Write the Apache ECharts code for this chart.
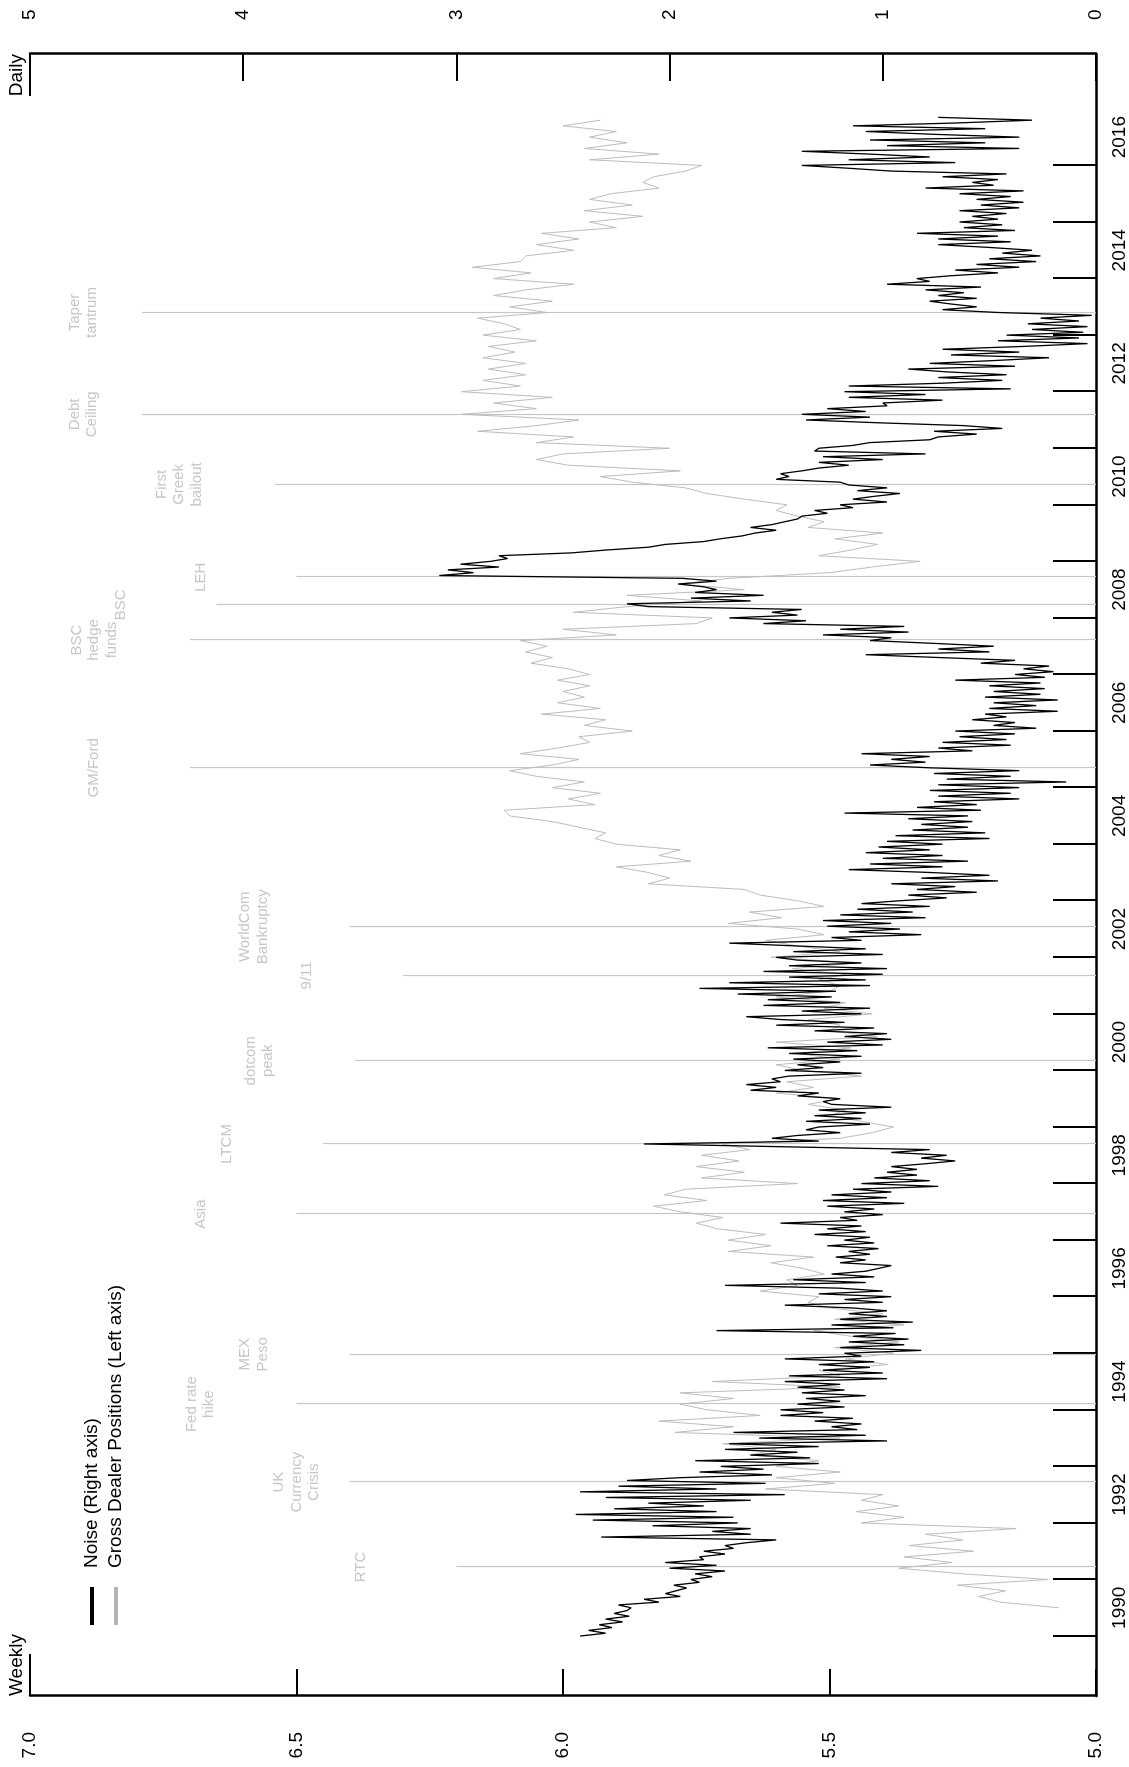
<!DOCTYPE html>
<html>
<head>
<meta charset="utf-8">
<title>Noise and Gross Dealer Positions</title>
<script src="https://cdn.jsdelivr.net/npm/echarts@6/dist/echarts.min.js"></script>
<style>
  html, body { margin: 0; padding: 0; background: #fff; overflow: hidden; }
  #page { position: relative; width: 1129px; height: 1767px; overflow: hidden; }
  /* chart is drawn landscape, then turned a quarter to the left */
  #chart { position: absolute; left: 0; top: 0; width: 1767px; height: 1129px;
           transform-origin: 0 0; transform: translate(0, 1767px) rotate(-90deg); }
</style>
</head>
<body>
<div id="page"><div id="chart"></div></div>
<script>
// Noise (daily, right axis), one row per year, 20 readings per year
var noiseStartYear = 1990;
var noiseStep = 0.05;
var noiseRows = [
  [2.42,2.30,2.38,2.27,2.33,2.22,2.30,2.19,2.26,2.20,2.18,2.24,2.05,2.12,1.95,2.02,1.97,1.92,1.98,1.86],
  [1.90,1.80,1.88,1.74,2.00,1.78,2.02,1.84,1.86,1.74,1.84,1.70,1.74,1.64,1.50,2.32,1.62,1.80,1.62,2.08],
  [1.68,2.36,1.70,2.44,1.78,2.26,1.84,2.10,1.62,2.30,1.46,2.42,1.78,2.24,1.55,2.20,1.95,1.52,1.86,1.56],
  [1.76,1.30,1.88,1.34,1.62,1.40,1.74,1.30,1.72,0.98,1.58,1.08,1.70,1.12,1.24,1.10,1.32,1.14,1.48,1.28],
  [1.48,1.18,1.40,1.20,1.36,1.08,1.38,1.18,1.40,1.20,1.46,0.98,1.44,1.00,1.28,1.06,1.30,1.04,1.46,1.10],
  [1.18,0.82,1.20,0.90,1.16,0.88,1.14,0.94,1.78,0.95,1.24,0.86,1.20,0.98,1.16,0.98,1.14,1.46,1.00,1.18],
  [0.96,1.30,1.00,1.20,1.74,1.08,1.42,1.04,1.24,1.08,1.02,0.96,1.20,1.08,1.22,1.06,1.16,1.02,1.26,1.04],
  [1.18,1.06,1.32,1.08,1.26,1.10,1.48,1.12,1.20,1.00,1.18,1.04,1.26,0.90,1.28,0.98,1.24,0.96,1.14,0.74],
  [1.10,0.78,1.04,0.84,0.98,0.84,0.96,0.80,0.66,0.82,0.70,0.96,0.78,1.46,2.12,1.30,1.52,1.40,1.20,1.36],
  [1.30,1.06,1.36,1.10,1.32,1.08,1.30,0.96,1.24,1.28,1.20,1.40,1.30,1.62,1.50,1.64,1.48,1.52,1.44,1.10],
  [1.46,1.28,1.40,1.20,1.42,1.10,1.44,1.12,1.54,1.00,1.26,0.96,1.18,0.98,1.32,1.04,1.50,1.18,1.48,1.64],
  [1.10,1.38,1.06,1.56,1.20,1.54,1.24,1.68,1.22,1.86,1.06,1.72,1.08,1.44,1.00,1.56,0.98,1.44,1.10,1.40],
  [1.50,1.00,1.42,1.08,1.40,1.72,1.10,1.24,0.82,1.16,0.92,1.26,0.96,1.28,0.80,1.20,0.86,1.12,0.78,1.10],
  [0.92,0.70,0.88,0.56,0.84,0.66,0.96,0.46,0.82,0.50,0.78,1.16,0.72,1.06,0.60,1.00,0.72,1.08,0.78,1.02],
  [0.72,0.98,0.50,0.94,0.52,0.86,0.60,0.82,0.58,0.88,0.60,1.18,0.54,0.84,0.56,0.76,0.36,0.74,0.40,0.78],
  [0.36,0.74,0.14,0.70,0.40,0.76,0.36,0.78,1.06,0.80,0.96,0.78,1.10,0.58,0.74,0.40,0.72,0.42,0.64,0.38],
  [0.66,0.28,0.48,0.38,0.58,0.42,0.52,0.18,0.50,0.28,0.48,0.18,0.52,0.26,0.48,0.24,0.50,0.26,0.66,0.24],
  [0.38,0.20,0.34,0.22,0.54,0.38,0.74,1.08,0.50,0.74,0.48,0.76,1.06,0.96,1.28,0.88,1.20,0.90,1.56,1.36],
  [1.72,1.40,1.52,1.38,2.10,2.20,1.62,1.90,1.56,1.88,1.78,1.84,1.96,1.78,1.94,3.08,2.92,3.04,2.80,2.98],
  [2.84,2.76,2.80,2.46,2.30,2.10,2.02,1.84,1.76,1.66,1.60,1.50,1.62,1.52,1.46,1.40,1.38,1.26,1.32,1.14],
  [1.20,0.98,1.14,1.04,0.92,1.12,0.98,1.16,1.20,1.50,1.44,1.48,1.38,1.30,1.16,1.30,1.00,1.28,0.80,1.32],
  [1.30,1.14,1.06,0.78,0.74,0.56,0.76,0.44,0.62,1.02,1.36,1.06,1.38,1.08,1.26,0.98,1.00,0.72,1.16,0.80],
  [1.18,0.40,1.16,0.72,0.44,0.74,0.42,0.70,0.88,0.38,0.78,0.48,0.22,0.68,0.36,0.72,0.34,0.04,0.46,0.08],
  [0.42,0.06,0.30,0.04,0.32,0.08,0.26,0.02,0.46,0.72,0.56,0.68,0.78,0.56,0.74,0.62,0.80,0.54,0.98,0.78],
  [0.84,0.68,0.46,0.66,0.36,0.56,0.28,0.50,0.26,0.44,0.30,0.50,0.74,0.40,0.74,0.46,0.84,0.38,0.62,0.44],
  [0.64,0.46,0.58,0.42,0.64,0.36,0.54,0.34,0.56,0.40,0.64,0.34,0.80,0.48,0.58,0.46,0.72,0.42,0.96,1.16],
  [1.38,0.66,1.16,0.78,1.06,1.38,0.36,0.98,0.52,1.06,0.36,0.76,1.08,0.52,1.14,0.66,0.30,0.74]
];

// Gross dealer positions (weekly, left axis), one row per year, 10 readings per year; first row starts mid-1990
var positionStart = 1990.5;
var positionStep = 0.1;
var positionRows = [
  [5.07,5.18,5.22,5.17,5.26],
  [5.09,5.25,5.37,5.27,5.36,5.23,5.35,5.25,5.32,5.15],
  [5.44,5.36,5.45,5.37,5.44,5.40,5.62,5.49,5.60,5.48],
  [5.60,5.52,5.65,5.60,5.70,5.48,5.79,5.68,5.82,5.63],
  [5.73,5.78,5.68,5.78,5.48,5.72,5.48,5.52,5.39,5.47],
  [5.38,5.49,5.37,5.46,5.53,5.36,5.49,5.40,5.50,5.54],
  [5.52,5.63,5.56,5.58,5.51,5.55,5.61,5.53,5.69,5.61],
  [5.69,5.62,5.71,5.75,5.70,5.78,5.83,5.73,5.81,5.77],
  [5.56,5.74,5.66,5.75,5.67,5.74,5.65,5.70,5.48,5.42],
  [5.38,5.44,5.50,5.47,5.54,5.48,5.60,5.53,5.58,5.44],
  [5.55,5.60,5.48,5.56,5.46,5.60,5.41,5.50,5.48,5.54],
  [5.42,5.51,5.47,5.60,5.50,5.48,5.52,5.47,5.57,5.45],
  [5.61,5.48,5.56,5.62,5.51,5.56,5.69,5.59,5.65,5.51],
  [5.56,5.63,5.66,5.84,5.80,5.84,5.90,5.76,5.82,5.78],
  [5.90,5.94,5.92,5.97,6.02,6.10,6.11,5.94,5.99,5.93],
  [6.02,5.96,6.05,6.10,6.02,5.97,6.08,6.01,5.95,5.97],
  [5.87,5.96,5.92,6.04,5.93,6.01,5.96,6.00,5.95,6.01],
  [5.95,5.99,6.06,6.02,6.07,6.03,6.08,5.90,6.00,5.75],
  [5.72,5.98,5.88,5.74,5.88,5.66,5.78,5.69,5.50,5.42],
  [5.33,5.52,5.46,5.41,5.49,5.40,5.54,5.51,5.56,5.60],
  [5.58,5.66,5.73,5.77,5.87,5.93,5.78,5.99,6.05,6.00],
  [5.80,6.05,5.98,6.16,6.05,5.97,6.19,6.05,6.13,6.02],
  [6.19,6.08,6.15,6.07,6.14,6.07,6.15,6.09,6.14,6.05],
  [6.15,6.08,6.11,6.16,6.03,6.10,6.02,6.13,6.07,5.98],
  [6.13,6.06,6.17,6.08,6.07,5.98,6.05,5.97,6.04,5.90],
  [5.95,5.85,5.96,5.87,5.95,5.91,5.82,5.85,5.83,5.77],
  [5.74,5.95,5.82,5.96,5.88,5.95,5.90,6.00,5.93]
];

// events: date, top of marker line and label height (left-axis units)
var eventNames = ['RTC', 'UK\nCurrency\nCrisis', 'Fed rate\nhike', 'MEX\nPeso', 'Asia', 'LTCM',
  'dotcom\npeak', '9/11', 'WorldCom\nBankruptcy', 'GM/Ford', 'BSC\nhedge\nfunds', 'BSC', 'LEH',
  'First\nGreek\nbailout', 'Debt\nCeiling', 'Taper\ntantrum'];
var eventDates = [1991.22, 1992.72, 1994.10, 1994.98, 1997.46, 1998.70, 2000.17, 2001.68,
  2002.54, 2005.35, 2007.61, 2008.23, 2008.72, 2010.36, 2011.60, 2013.40];
var eventTops = [6.20, 6.40, 6.50, 6.40, 6.50, 6.45, 6.39, 6.30, 6.40, 6.70, 6.70, 6.65, 6.50, 6.54, 6.79, 6.79];
var eventLabelY = [6.38, 6.50, 6.68, 6.58, 6.68, 6.63, 6.57, 6.48, 6.58, 6.88, 6.88, 6.83, 6.68, 6.72, 6.90, 6.90];

var yearTicks = [1990,1991,1992,1993,1994,1995,1996,1997,1998,1999,2000,2001,2002,2003,
  2004,2005,2006,2007,2008,2009,2010,2011,2012,2013,2014,2015,2016];
var yearLabels = [1990,1992,1994,1996,1998,2000,2002,2004,2006,2008,2010,2012,2014,2016];

var xMin = 1988.94, xMax = 2017.97;
var font = 'Liberation Sans, Arial, Helvetica, sans-serif';

var noise = [];
noiseRows.forEach(function (row, r) {
  row.forEach(function (v, k) {
    noise.push([noiseStartYear + r + k * noiseStep, v]);
  });
});

var positions = [];
positionRows.forEach(function (row, r) {
  var t0 = r === 0 ? positionStart : Math.floor(positionStart) + r;
  row.forEach(function (v, k) {
    positions.push([t0 + k * positionStep, v]);
  });
});

var eventLines = eventDates.map(function (d, i) {
  return { coords: [[d, 5], [d, eventTops[i]]] };
});
var eventLabels = eventDates.map(function (d, i) {
  return { value: [d, eventLabelY[i]], label: { formatter: eventNames[i] } };
});

var chart = echarts.init(document.getElementById('chart'), null, { renderer: 'canvas' });

var option = {
  animation: false,
  backgroundColor: '#fff',
  textStyle: { fontFamily: font },
  grid: { left: 71, right: 54, top: 30, bottom: 31, containLabel: false },
  legend: {
    data: ['Noise (Right axis)', 'Gross Dealer Positions (Left axis)'],
    orient: 'vertical',
    left: 137,
    top: 77,
    itemWidth: 38,
    itemHeight: 4,
    itemGap: 4,
    icon: 'rect',
    textStyle: { fontSize: 19, color: '#000', lineHeight: 20, padding: [0, 0, 0, 14], fontFamily: font },
    selectedMode: false
  },
  xAxis: {
    type: 'value',
    min: xMin,
    max: xMax,
    position: 'bottom',
    axisLine: { lineStyle: { color: '#000', width: 2.5 } },
    axisTick: { inside: true, length: 43, customValues: yearTicks, lineStyle: { color: '#000', width: 2 } },
    axisLabel: {
      customValues: yearLabels.map(function (y) { return y + 0.5; }),
      formatter: function (v) { return String(Math.floor(v)); },
      fontSize: 19, color: '#000', margin: 14, fontFamily: font
    },
    splitLine: { show: false }
  },
  yAxis: [
    {
      type: 'value',
      position: 'left',
      min: 5, max: 7, interval: 0.5,
      name: 'Weekly',
      nameLocation: 'end',
      nameGap: 4,
      nameTextStyle: { fontSize: 19, color: '#000', align: 'left', fontFamily: font },
      axisLine: { show: true, lineStyle: { color: '#000', width: 2.5 } },
      axisTick: { show: true, inside: true, length: 27, lineStyle: { color: '#000', width: 2 } },
      axisLabel: { fontSize: 19, color: '#000', margin: 36, fontFamily: font,
        formatter: function (v) { return v.toFixed(1); } },
      splitLine: { show: false }
    },
    {
      type: 'value',
      position: 'right',
      min: 0, max: 5, interval: 1,
      name: 'Daily',
      nameLocation: 'end',
      nameGap: 4,
      nameTextStyle: { fontSize: 19, color: '#000', align: 'right', fontFamily: font },
      axisLine: { show: true, lineStyle: { color: '#000', width: 2.5 } },
      axisTick: { show: true, inside: true, length: 27, lineStyle: { color: '#000', width: 2 } },
      axisLabel: { fontSize: 19, color: '#000', margin: 34, fontFamily: font },
      splitLine: { show: false }
    }
  ],
  series: [
    {
      name: 'events',
      type: 'lines',
      coordinateSystem: 'cartesian2d',
      xAxisIndex: 0,
      yAxisIndex: 0,
      silent: true,
      lineStyle: { color: '#c6c6c6', width: 1.2, opacity: 1 },
      data: eventLines
    },
    {
      name: 'Gross Dealer Positions (Left axis)',
      type: 'line',
      yAxisIndex: 0,
      showSymbol: false,
      symbol: 'none',
      color: '#bdbdbd',
      itemStyle: { color: '#b4b4b4' },
      lineStyle: { color: '#bdbdbd', width: 1 },
      data: positions
    },
    {
      name: 'Noise (Right axis)',
      type: 'line',
      yAxisIndex: 1,
      showSymbol: false,
      symbol: 'none',
      color: '#000',
      itemStyle: { color: '#000' },
      lineStyle: { color: '#000', width: 1.3 },
      data: noise
    },
    {
      name: 'event labels',
      type: 'scatter',
      yAxisIndex: 0,
      silent: true,
      symbolSize: 1,
      itemStyle: { color: 'rgba(0,0,0,0)' },
      label: {
        show: true, position: 'inside', color: '#b8b8b8', fontSize: 15, lineHeight: 17.5,
        align: 'center', verticalAlign: 'middle', fontFamily: font
      },
      data: eventLabels
    }
  ]
};

chart.setOption(option);

// short end marks at the top of both value axes
var xl = chart.convertToPixel({ xAxisIndex: 0 }, xMin);
var xr = chart.convertToPixel({ xAxisIndex: 0 }, xMax);
var yt = chart.convertToPixel({ yAxisIndex: 0 }, 7);
chart.setOption({
  graphic: [
    { type: 'line', shape: { x1: xl, y1: yt, x2: xl + 42, y2: yt }, style: { stroke: '#000', lineWidth: 2 } },
    { type: 'line', shape: { x1: xr - 42, y1: yt, x2: xr, y2: yt }, style: { stroke: '#000', lineWidth: 2 } }
  ]
});
</script>
</body>
</html>
